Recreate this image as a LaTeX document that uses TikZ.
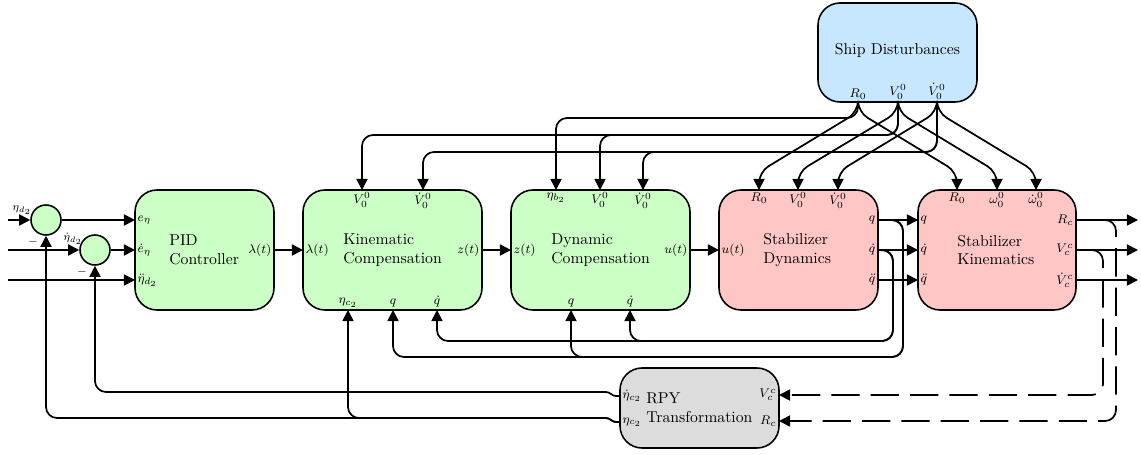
\documentclass[tikz,border=0pt]{standalone}
\usetikzlibrary{arrows.meta}
\definecolor{gfill}{HTML}{CCFFC6}
\definecolor{rfill}{HTML}{FFC6C6}
\definecolor{bfill}{HTML}{C6E7FF}
\definecolor{gyfill}{HTML}{DCDCDC}
\begin{document}
\begin{tikzpicture}[x=0.635pt,y=-0.635pt,
  blk/.style={draw, line width=1pt, rounded corners=14pt, inner sep=0pt},
  bsize/.style n args={2}{minimum width=#1*0.635pt, minimum height=#2*0.635pt},
  wire/.style={line width=1.1pt, rounded corners=7pt},
  arr/.style={wire, -{Triangle[length=7pt,width=7pt]}},
  darr/.style={arr, dash pattern=on 18pt off 7pt},
  lbl/.style={font=\footnotesize, inner sep=1.5pt},
  sumnode/.style={circle, draw, fill=gfill, line width=1pt, minimum size=30*0.635pt, inner sep=0pt},
  mainlbl/.style={align=left, anchor=west, inner sep=0pt}]
\useasboundingbox (0,0) rectangle (1141,455);

% blocks
\node[blk, fill=gfill, bsize={139}{120}] (pid) at (204.5,250) {};
\node[blk, fill=gfill, bsize={179}{120}] (kin) at (392.5,250) {};
\node[blk, fill=gfill, bsize={179}{120}] (dyn) at (600.5,250) {};
\node[blk, fill=rfill, bsize={159}{120}] (sdyn) at (798.5,250) {};
\node[blk, fill=rfill, bsize={158}{120}] (skin) at (997,250) {};
\node[blk, fill=bfill, bsize={159}{99}] (ship) at (897.5,52.5) {};
\node[blk, fill=gyfill, bsize={159}{80}] (rpy) at (699.5,408) {};

% block texts
\node[mainlbl] (pidt) at (169,250) {PID\\Controller};
\node[mainlbl] (kint) at (343,250) {Kinematic\\Compensation};
\node[mainlbl] (dynt) at (551,250) {Dynamic\\Compensation};
\node[mainlbl] (sdynt) at (763,250) {Stabilizer\\Dynamics};
\node[mainlbl] (skint) at (957,250) {Stabilizer\\Kinematics};
\node[inner sep=0pt] (shipt) at (897.5,50) {Ship Disturbances};
\node[mainlbl] (rpyt) at (646,408) {RPY\\Transformation};

% summing junctions
\node[sumnode] (s1) at (46,220) {};
\node[sumnode] (s2) at (95,250) {};
\node[font=\scriptsize, inner sep=0pt] (l1) at (22,210) {$\eta_{d_2}$};
\node[font=\scriptsize, inner sep=0pt] (l2) at (73,239) {$\dot\eta_{d_2}$};
\node[font=\scriptsize, inner sep=0pt] (m1) at (33,242) {$-$};
\node[font=\scriptsize, inner sep=0pt] (m2) at (82,272) {$-$};
\coordinate (in1) at (8,220);
\coordinate (in2) at (8,250);
\coordinate (in3) at (8,280);

% PID ports
\node[lbl, anchor=west] (pe1) at (135,220) {$e_\eta$};
\node[lbl, anchor=west] (pe2) at (135,250) {$\dot e_\eta$};
\node[lbl, anchor=west] (pe3) at (135,280) {$\ddot\eta_{d_2}$};
\node[lbl, anchor=east] (po) at (274,250) {$\lambda(t)$};

% Kinematic ports
\node[lbl, anchor=west] (ki) at (303,250) {$\lambda(t)$};
\node[lbl, anchor=east] (ko) at (482,250) {$z(t)$};
\node[lbl, anchor=north] (kt1) at (362,190) {$V_0^0$};
\node[lbl, anchor=north] (kt2) at (423,190) {$\dot V_0^0$};
\node[lbl, anchor=south] (kb1) at (348,310) {$\eta_{c_2}$};
\node[lbl, anchor=south] (kb2) at (393,310) {$q$};
\node[lbl, anchor=south] (kb3) at (437,310) {$\dot q$};

% Dynamic ports
\node[lbl, anchor=west] (di) at (511,250) {$z(t)$};
\node[lbl, anchor=east] (do) at (690,250) {$u(t)$};
\node[lbl, anchor=north] (dt1) at (556,190) {$\eta_{b_2}$};
\node[lbl, anchor=north] (dt2) at (600,190) {$V_0^0$};
\node[lbl, anchor=north] (dt3) at (643,190) {$\dot V_0^0$};
\node[lbl, anchor=south] (db1) at (571,310) {$q$};
\node[lbl, anchor=south] (db2) at (630,310) {$\dot q$};

% Stabilizer dynamics ports
\node[lbl, anchor=west] (sdi) at (719,250) {$u(t)$};
\node[lbl, anchor=north] (st1) at (759,190) {$R_0$};
\node[lbl, anchor=north] (st2) at (798,190) {$V_0^0$};
\node[lbl, anchor=north] (st3) at (838,190) {$\dot V_0^0$};
\node[lbl, anchor=east] (sq) at (878,220) {$q$};
\node[lbl, anchor=east] (sqd) at (878,250) {$\dot q$};
\node[lbl, anchor=east] (sqdd) at (878,280) {$\ddot q$};

% Stabilizer kinematics ports
\node[lbl, anchor=west] (kq) at (918,220) {$q$};
\node[lbl, anchor=west] (kqd) at (918,250) {$\dot q$};
\node[lbl, anchor=west] (kqdd) at (918,280) {$\ddot q$};
\node[lbl, anchor=north] (ut1) at (957,190) {$R_0$};
\node[lbl, anchor=north] (ut2) at (997,190) {$\omega_0^0$};
\node[lbl, anchor=north] (ut3) at (1036,190) {$\dot\omega_0^0$};
\node[lbl, anchor=east] (rc) at (1076,220) {$R_c$};
\node[lbl, anchor=east] (vc) at (1076,250) {$V_c^c$};
\node[lbl, anchor=east] (vcd) at (1076,280) {$\dot V_c^c$};
\coordinate (o1) at (1138,220);
\coordinate (o2) at (1138,250);
\coordinate (o3) at (1138,280);

% Ship ports
\node[lbl, anchor=south] (sh1) at (858,102) {$R_0$};
\node[lbl, anchor=south] (sh2) at (898,102) {$V_0^0$};
\node[lbl, anchor=south] (sh3) at (937,102) {$\dot V_0^0$};

% RPY ports
\node[lbl, anchor=west] (rl1) at (620,396) {$\dot\eta_{c_2}$};
\node[lbl, anchor=west] (rl2) at (620,422) {$\eta_{c_2}$};
\node[lbl, anchor=east] (rr1) at (779,395) {$V_c^c$};
\node[lbl, anchor=east] (rr2) at (779,421) {$R_c$};

% forward path
\draw[arr] (in1) -- (s1.west);
\draw[arr] (s1.east) -- (pe1.west);
\draw[arr] (in2) -- (s2.west);
\draw[arr] (s2.east) -- (pe2.west);
\draw[arr] (in3) -- (pe3.west);
\draw[arr] (po.east) -- (ki.west);
\draw[arr] (ko.east) -- (di.west);
\draw[arr] (do.east) -- (sdi.west);
\draw[arr] (sq.east) -- (kq.west);
\draw[arr] (sqd.east) -- (kqd.west);
\draw[arr] (sqdd.east) -- (kqdd.west);
\draw[arr] (rc.east) -- (o1);
\draw[arr] (vc.east) -- (o2);
\draw[arr] (vcd.east) -- (o3);

% ship disturbance buses
\draw[arr] (sh1.south) |- (dt1.north |- 0,118) -- (dt1.north);
\draw[arr] (sh2.south) |- (kt1.north |- 0,135) -- (kt1.north);
\draw[arr] (sh2.south) |- (dt2.north |- 0,135) -- (dt2.north);
\draw[arr] (sh3.south) |- (kt2.north |- 0,152) -- (kt2.north);
\draw[arr] (sh3.south) |- (dt3.north |- 0,152) -- (dt3.north);
\draw[arr] (sh1.south) -- ++(0,10) -- (st1.north |- 0,172) -- (st1.north);
\draw[arr] (sh1.south) -- ++(0,10) -- (ut1.north |- 0,172) -- (ut1.north);
\draw[arr] (sh2.south) -- ++(0,10) -- (st2.north |- 0,172) -- (st2.north);
\draw[arr] (sh2.south) -- ++(0,10) -- (ut2.north |- 0,172) -- (ut2.north);
\draw[arr] (sh3.south) -- ++(0,10) -- (st3.north |- 0,172) -- (st3.north);
\draw[arr] (sh3.south) -- ++(0,10) -- (ut3.north |- 0,172) -- (ut3.north);

% q feedback
\draw[arr] (sq.east) -| (903,357) -| (kb2.south);
\draw[arr] (sq.east) -| (903,357) -| (db1.south);
\draw[arr] (sqd.east) -| (893,341) -| (kb3.south);
\draw[arr] (sqd.east) -| (893,341) -| (db2.south);

% RPY feedback
\draw[arr] (rl1.west) [sharp corners] -- ++(-4,0) to[out=180,in=0] ++(-10,-4) [rounded corners=7pt] -| (s2.south);
\draw[arr] (rl2.west) [sharp corners] -- ++(-4,0) to[out=180,in=0] ++(-10,-4) [rounded corners=7pt] -| (s1.south);
\draw[arr] (rl2.west) [sharp corners] -- ++(-4,0) to[out=180,in=0] ++(-10,-4) [rounded corners=7pt] -| (kb1.south);

% dashed feedback to RPY
\draw[darr] ([shift={(12,0)}]vc.east) -| (1103,395) -- (rr1.east);
\draw[darr] ([shift={(24,0)}]rc.east) -| (1116,421) -- (rr2.east);
\end{tikzpicture}
\end{document}
